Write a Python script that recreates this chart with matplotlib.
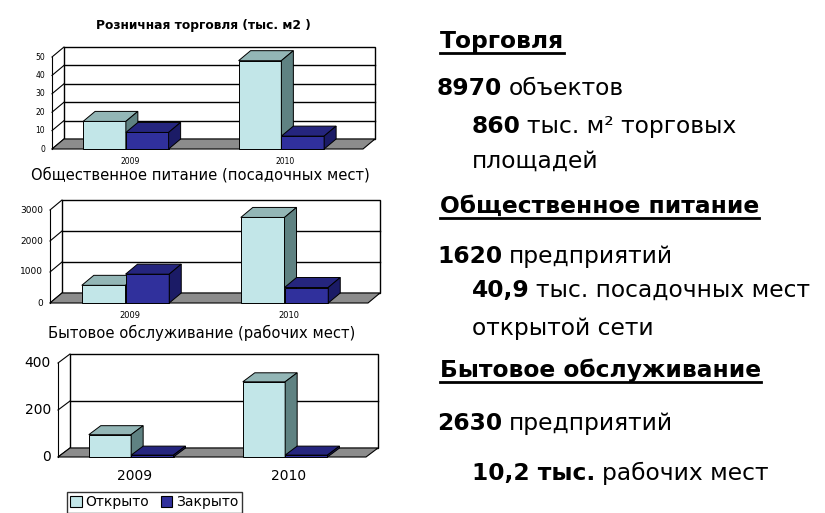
import numpy as np
import matplotlib
matplotlib.use("Agg")
import matplotlib.pyplot as plt
from matplotlib.patches import Polygon, Patch
from matplotlib.lines import Line2D

W, H = 825, 513

years = ["2009", "2010"]
series = ["Открыто", "Закрыто"]

retail_title = "Розничная торговля (тыс. м2 )"
retail_open = [15, 48]
retail_closed = [9, 7]

catering_title = "Общественное питание (посадочных мест)"
catering_open = [570, 2760]
catering_closed = [930, 500]

services_title = "Бытовое обслуживание (рабочих мест)"
services_open = [95, 320]
services_closed = [8, 8]

# colours of the front / top / side faces
open_faces = ("#c2e6e8", "#93b6b6", "#5f8282")
closed_faces = ("#30309c", "#25257e", "#1b1b66")
floor_color = "#8c8c8c"

fig = plt.figure(figsize=(W / 100, H / 100), dpi=100)
fig.patch.set_facecolor("white")


def px_axes(x0, y0, x1, y1):
    return fig.add_axes([x0 / W, 1 - y1 / H, (x1 - x0) / W, (y1 - y0) / H])


def bar3d(ax, x0, w, h, ddx, ddy, faces, z):
    front, top, side = faces
    ax.bar(x0, h, width=w, align="edge", color=front, edgecolor="black",
           linewidth=0.7, zorder=z, clip_on=False)
    ax.add_patch(Polygon([(x0, h), (x0 + w, h), (x0 + w + ddx, h + ddy), (x0 + ddx, h + ddy)],
                         closed=True, fc=top, ec="black", lw=0.7, zorder=z, clip_on=False))
    ax.add_patch(Polygon([(x0 + w, 0), (x0 + w, h), (x0 + w + ddx, h + ddy), (x0 + w + ddx, ddy)],
                         closed=True, fc=side, ec="black", lw=0.7, zorder=z, clip_on=False))


def chart(box, depth, vals_open, vals_closed, ymax, step, tick_fs, year_fs, year_y):
    xL, yT, xR, yB = box
    dx, dy = depth
    ax = px_axes(xL, yT, xR, yB)
    ax.set_xlim(0, 2)
    ax.set_ylim(0, ymax)
    ax.axis("off")
    ddx = dx / (xR - xL) * 2
    ddy = dy / (yB - yT) * ymax

    # back wall with gridlines
    ax.add_patch(Polygon([(ddx, ddy), (2 + ddx, ddy), (2 + ddx, ymax + ddy), (ddx, ymax + ddy)],
                         closed=True, fc="white", ec="black", lw=1, zorder=1, clip_on=False))
    ticks = np.arange(0, ymax + step / 2, step)
    for v in ticks[1:-1]:
        ax.plot([ddx, 2 + ddx], [v + ddy] * 2, color="black", lw=1, zorder=1, clip_on=False)
    # side wall
    ax.plot([0, 0], [0, ymax], color="black", lw=0.8, zorder=1, clip_on=False)
    for v in ticks:
        ax.plot([0, ddx], [v, v + ddy], color="black", lw=0.8, zorder=1, clip_on=False)
        ax.annotate(f"{v:g}", (0, v), xytext=(-5, 0), textcoords="offset points",
                    ha="right", va="center", fontsize=tick_fs, annotation_clip=False)

    # floor
    ax.add_patch(Polygon([(0, 0), (2, 0), (2 + ddx, ddy), (ddx, ddy)],
                         closed=True, fc=floor_color, ec="black", lw=0.8, zorder=2, clip_on=False))

    w = 0.275
    z = 3
    for i in range(len(years)):
        x0 = i + 0.2
        bar3d(ax, x0, w, vals_open[i], ddx, ddy, open_faces, z)
        bar3d(ax, x0 + w, w, vals_closed[i], ddx, ddy, closed_faces, z + 1)
        z += 2
        cx = xL + (i + 0.5) / 2 * (xR - xL)
        fig.text(cx / W, 1 - year_y / H, years[i], ha="center", va="center", fontsize=year_fs)
    return ax


chart((52, 57, 363, 149), (12, 10), retail_open, retail_closed, 50, 10, 5.5, 5.5, 162)
fig.text(203 / W, 1 - 25 / H, retail_title, ha="center", va="center", fontsize=8.8, fontweight="bold")

chart((50, 210, 368, 303), (12, 10), catering_open, catering_closed, 3000, 1000, 6.5, 6, 315)
fig.text(200 / W, 1 - 175 / H, catering_title, ha="center", va="center", fontsize=10.6)

chart((58, 363, 366, 457), (12, 9), services_open, services_closed, 400, 200, 10, 10, 476)
fig.text(202 / W, 1 - 333 / H, services_title, ha="center", va="center", fontsize=10.6)

handles = [Patch(fc=open_faces[0], ec="black", lw=0.8), Patch(fc=closed_faces[0], ec="black", lw=0.8)]
leg = fig.legend(handles, series, loc="upper left", bbox_to_anchor=(67 / W, 1 - 492 / H), ncol=2,
                 frameon=True, fancybox=False, edgecolor="black", fontsize=10,
                 handlelength=0.8, handleheight=0.8, handletextpad=0.3, columnspacing=0.8,
                 borderpad=0.25, borderaxespad=0)
leg.get_frame().set_linewidth(1)

# summary text on the right
renderer = fig.canvas.get_renderer()
FS = 16.8


def rich_line(x, y, parts, underline=False):
    x_start = x
    for k, (txt, bold) in enumerate(parts):
        if k > 0:
            x += FS * 0.38
        t = fig.text(x / W, 1 - y / H, txt, fontsize=FS, va="baseline", ha="left",
                     fontweight="bold" if bold else "normal", color="black")
        x += t.get_window_extent(renderer).width
    if underline:
        fig.add_artist(Line2D([x_start / W, x / W], [1 - (y + 5) / H] * 2,
                              color="black", lw=2, transform=fig.transFigure))


rich_line(440, 48, [("Торговля", True)], underline=True)
rich_line(437, 95, [("8970", True), ("объектов", False)])
rich_line(472, 133, [("860", True), ("тыс. м² торговых", False)])
rich_line(472, 168, [("площадей", False)])
rich_line(440, 213, [("Общественное питание", True)], underline=True)
rich_line(437, 263, [("1620", True), ("предприятий", False)])
rich_line(472, 297, [("40,9", True), ("тыс. посадочных мест", False)])
rich_line(472, 335, [("открытой сети", False)])
rich_line(440, 377, [("Бытовое обслуживание", True)], underline=True)
rich_line(437, 430, [("2630", True), ("предприятий", False)])
rich_line(472, 480, [("10,2 тыс.", True), ("рабочих мест", False)])

fig.savefig("out.png", dpi=100)
